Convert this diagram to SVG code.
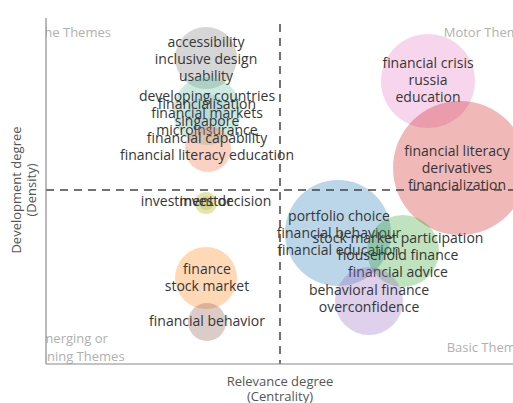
<svg xmlns="http://www.w3.org/2000/svg" width="513" height="403" viewBox="0 0 513 403">
<defs>
<clipPath id="plot"><rect x="46" y="0" width="467" height="364"/></clipPath>
</defs>
<style>
.bg{fill:#ffffff}
.lbl{font-family:"Open Sans","Noto Sans",sans-serif;font-size:14px;fill:#363636;text-anchor:middle}
.quad{font-family:"Open Sans","Noto Sans",sans-serif;font-size:13px;fill:#b0b0b0;text-anchor:middle}
.axt{font-family:"Open Sans","Noto Sans",sans-serif;font-size:13px;fill:#555555;text-anchor:middle}
.axis{stroke:#8a8a8a;stroke-width:1.2;fill:none}
.guide{stroke:#444444;stroke-width:1.5;stroke-dasharray:8 6;fill:none}
.b{stroke:none}
</style>
<rect class="bg" x="0" y="0" width="513" height="403"/>
<g id="quadrant-labels" clip-path="url(#plot)">
<text class="quad" x="68" y="37">Niche Themes</text>
<text class="quad" x="488" y="37">Motor Themes</text>
<text class="quad" x="71" y="343">Emerging or</text>
<text class="quad" x="71" y="361">Declining Themes</text>
<text class="quad" x="488" y="352">Basic Themes</text>
</g>
<g id="nodes">
<g id="n-accessibility">
<circle class="b" cx="206" cy="58" r="31" fill="#7f7f7f" fill-opacity="0.32"/>
<text class="lbl" x="206" y="47">accessibility</text>
<text class="lbl" x="206" y="64">inclusive design</text>
<text class="lbl" x="206" y="81">usability</text>
</g>
<g id="n-developing">
<circle class="b" cx="207" cy="111" r="34" fill="#5fbfa0" fill-opacity="0.32"/>
<text class="lbl" x="207" y="101">developing countries</text>
<text class="lbl" x="207" y="118">financial markets</text>
<text class="lbl" x="207" y="135">microinsurance</text>
</g>
<g id="n-financialisation">
<circle class="b" cx="207" cy="114" r="20" fill="#1f77b4" fill-opacity="0.12"/>
<text class="lbl" x="207" y="109">financialisation</text>
<text class="lbl" x="207" y="126">singapore</text>
</g>
<g id="n-capability">
<circle class="b" cx="208" cy="149" r="23" fill="#f07a50" fill-opacity="0.35"/>
<text class="lbl" x="207" y="143">financial capability</text>
<text class="lbl" x="207" y="160">financial literacy education</text>
</g>
<g id="n-investment">
<circle class="b" cx="206" cy="203" r="11" fill="#bcbd22" fill-opacity="0.4"/>
<text class="lbl" x="206" y="206">investment decision</text>
</g>
<g id="n-investor">
<circle class="b" cx="206" cy="203" r="7" fill="#8c8c50" fill-opacity="0.2"/>
<text class="lbl" x="206" y="206">investor</text>
</g>
<g id="n-finance">
<circle class="b" cx="206" cy="278" r="31" fill="#ff7f0e" fill-opacity="0.3"/>
<text class="lbl" x="207" y="274">finance</text>
<text class="lbl" x="207" y="291">stock market</text>
</g>
<g id="n-behavior">
<circle class="b" cx="207" cy="322" r="19" fill="#8c564b" fill-opacity="0.3"/>
<text class="lbl" x="207" y="326">financial behavior</text>
</g>
<g id="n-crisis">
<circle class="b" cx="428" cy="81" r="47" fill="#e377c2" fill-opacity="0.3"/>
<text class="lbl" x="428" y="68">financial crisis</text>
<text class="lbl" x="428" y="85">russia</text>
<text class="lbl" x="428" y="102">education</text>
</g>
<g id="n-literacy">
<circle class="b" cx="460" cy="168" r="67" fill="#d62728" fill-opacity="0.33"/>
<text class="lbl" x="457" y="156">financial literacy</text>
<text class="lbl" x="457" y="173">derivatives</text>
<text class="lbl" x="457" y="190">financialization</text>
</g>
<g id="n-portfolio">
<circle class="b" cx="338" cy="233" r="53" fill="#1f77b4" fill-opacity="0.3"/>
<text class="lbl" x="339" y="221">portfolio choice</text>
<text class="lbl" x="339" y="238">financial behaviour</text>
<text class="lbl" x="339" y="255">financial education</text>
</g>
<g id="n-participation">
<circle class="b" cx="403" cy="251" r="36" fill="#2ca02c" fill-opacity="0.3"/>
<text class="lbl" x="398" y="243">stock market participation</text>
<text class="lbl" x="398" y="260">household finance</text>
<text class="lbl" x="398" y="277">financial advice</text>
</g>
<g id="n-behavioral">
<circle class="b" cx="369" cy="301" r="34" fill="#9467bd" fill-opacity="0.3"/>
<text class="lbl" x="369" y="295">behavioral finance</text>
<text class="lbl" x="369" y="312">overconfidence</text>
</g>
</g>
<g id="connectors">
<line class="guide" x1="280" y1="24" x2="280" y2="364"/>
<line class="guide" x1="46" y1="190" x2="513" y2="190"/>
</g>
<g id="axes">
<line class="axis" x1="46" y1="18" x2="46" y2="364"/>
<line class="axis" x1="46" y1="364" x2="513" y2="364"/>
<text class="axt" x="280" y="386">Relevance degree</text>
<text class="axt" x="280" y="401">(Centrality)</text>
<text class="axt" transform="translate(21,190) rotate(-90)">Development degree</text>
<text class="axt" transform="translate(36,190) rotate(-90)">(Density)</text>
</g>
</svg>
